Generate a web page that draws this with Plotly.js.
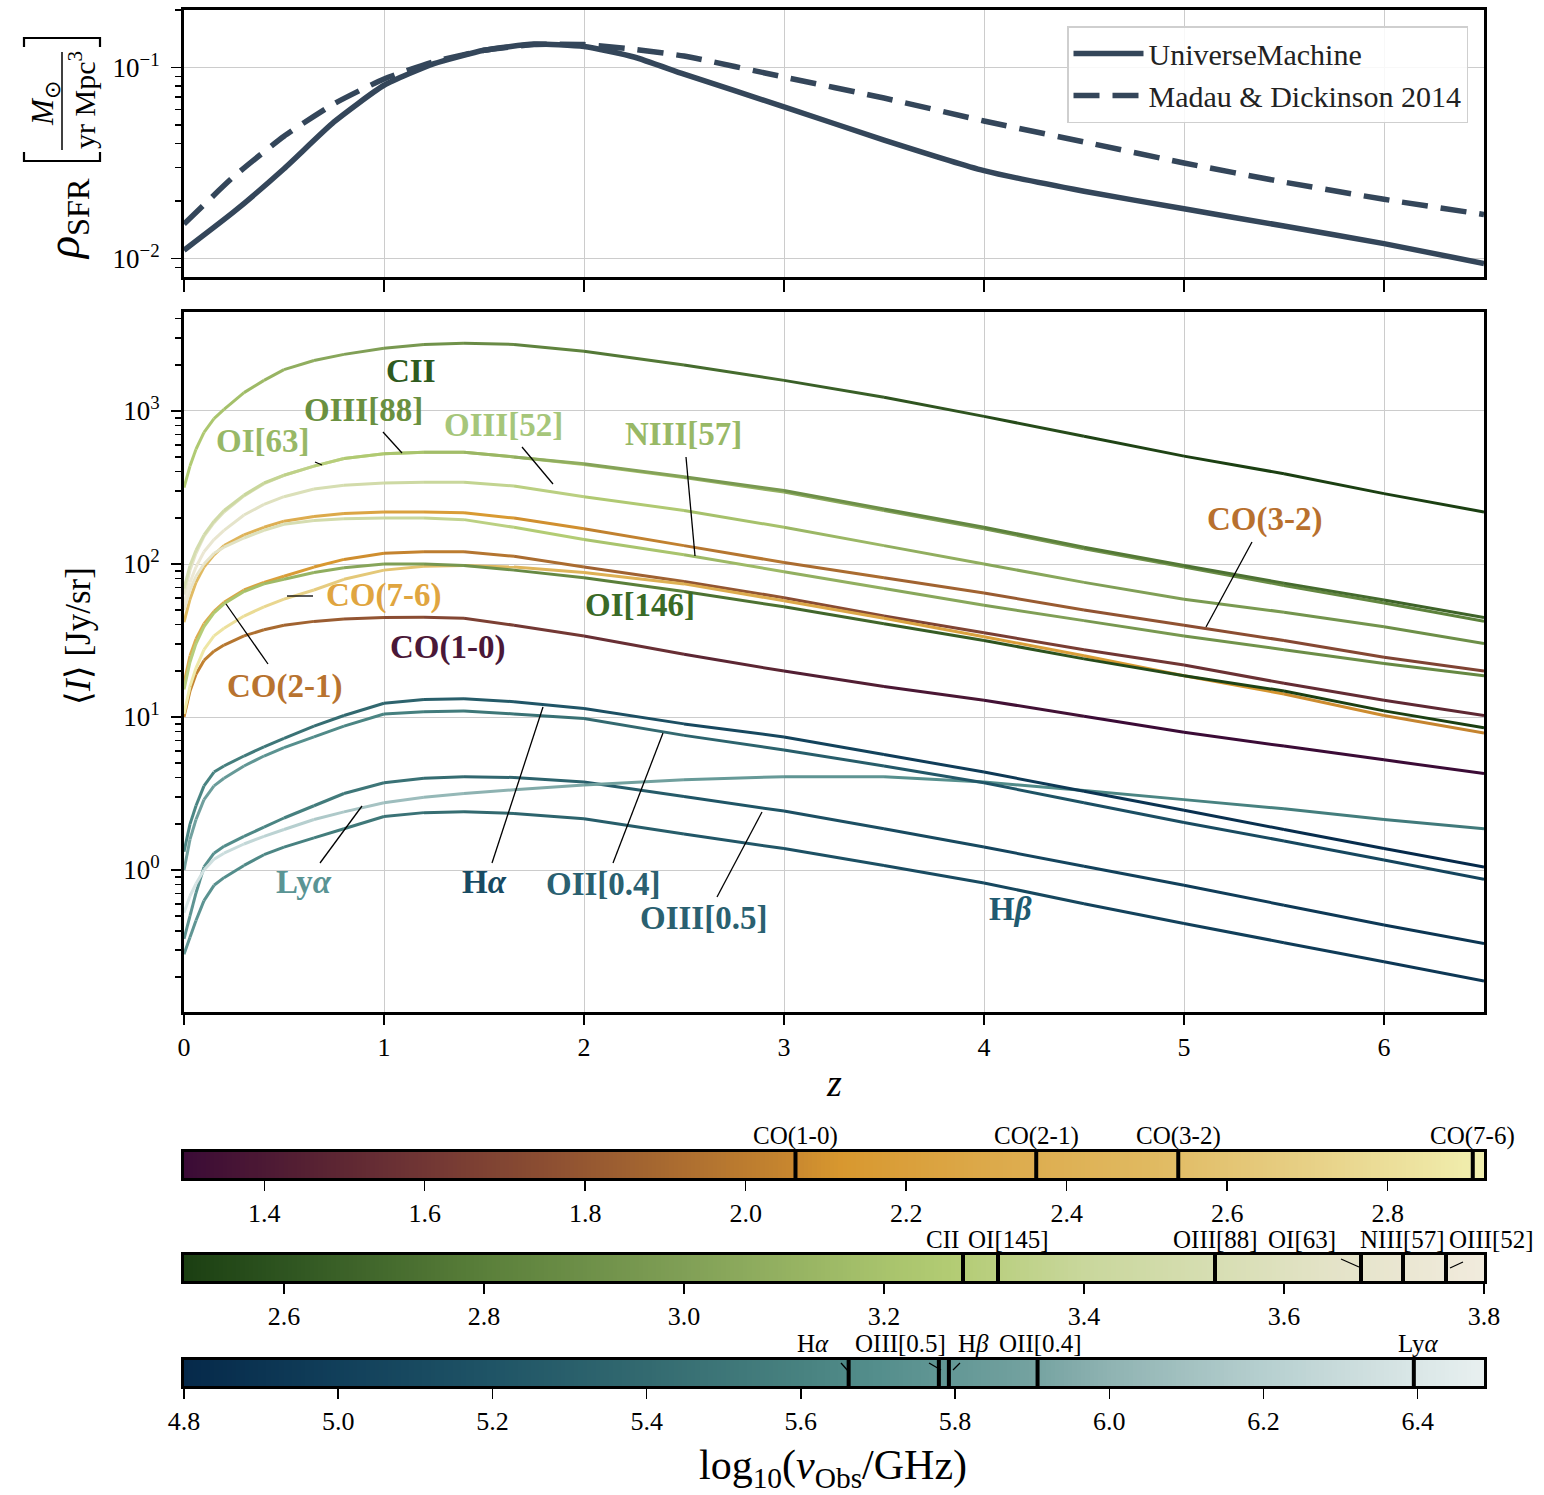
<!DOCTYPE html>
<html><head><meta charset="utf-8">
<script src="https://cdn.plot.ly/plotly-3.0.1.min.js"></script>
<style>body{margin:0;background:#fff}#chart{width:1544px;height:1495px}</style>
</head><body><div id="chart"></div>
<script>
// ---------- DATA ----------
// top panel: star formation rate density, log10(rho_SFR)
const zSfr = [0,0.25,0.5,0.75,1.0,1.25,1.5,1.75,2.0,2.25,2.5,3.0,3.5,4.0,4.5,5.0,5.5,6.0,6.5];
const logSfrUM = [-1.957,-1.755,-1.53,-1.285,-1.093,-0.98,-0.91,-0.877,-0.89,-0.945,-1.035,-1.206,-1.38,-1.54,-1.648,-1.74,-1.83,-1.922,-2.026];
const logSfrMD14 = [-1.82,-1.57,-1.36,-1.19,-1.06,-0.97,-0.91,-0.88,-0.88,-0.905,-0.94,-1.05,-1.16,-1.28,-1.39,-1.50,-1.60,-1.69,-1.77];

// main panel: log10 <I> [Jy/sr] versus redshift
const zGrid = [0,0.03,0.06,0.1,0.15,0.2,0.3,0.4,0.5,0.65,0.8,1.0,1.2,1.4,1.65,2.0,2.5,3.0,3.5,4.0,4.5,5.0,5.5,6.0,6.5];
const logI_CII   = [2.50,2.64,2.75,2.86,2.95,3.01,3.12,3.20,3.27,3.33,3.37,3.41,3.435,3.443,3.435,3.39,3.30,3.20,3.09,2.965,2.835,2.705,2.59,2.46,2.34];
const logI_OIII88= [1.84,1.99,2.09,2.19,2.28,2.35,2.45,2.53,2.58,2.64,2.69,2.72,2.73,2.73,2.70,2.655,2.57,2.48,2.36,2.24,2.11,1.99,1.875,1.765,1.65];
const logI_OI63  = [1.80,1.96,2.07,2.18,2.27,2.34,2.445,2.525,2.58,2.64,2.69,2.72,2.73,2.73,2.70,2.65,2.565,2.47,2.35,2.23,2.10,1.98,1.86,1.745,1.625];
const logI_OIII52= [1.74,1.88,1.98,2.08,2.16,2.22,2.32,2.39,2.44,2.49,2.515,2.53,2.535,2.535,2.51,2.44,2.35,2.24,2.12,2.00,1.88,1.77,1.685,1.59,1.48];
const logI_CO32  = [1.62,1.77,1.88,1.98,2.06,2.12,2.19,2.24,2.28,2.31,2.33,2.34,2.34,2.335,2.30,2.23,2.12,2.01,1.91,1.81,1.70,1.60,1.50,1.39,1.30];
const logI_NIII57= [1.70,1.83,1.92,2.00,2.07,2.11,2.17,2.22,2.26,2.285,2.295,2.30,2.30,2.29,2.24,2.16,2.06,1.95,1.84,1.73,1.63,1.53,1.44,1.35,1.27];
const logI_CO21  = [1.22,1.40,1.51,1.61,1.69,1.75,1.83,1.88,1.92,1.98,2.03,2.07,2.08,2.08,2.05,1.98,1.885,1.78,1.66,1.55,1.44,1.34,1.22,1.11,1.01];
const logI_OI145 = [1.18,1.36,1.48,1.59,1.68,1.74,1.82,1.87,1.90,1.945,1.975,2.00,2.00,1.99,1.96,1.91,1.82,1.72,1.61,1.50,1.38,1.27,1.17,1.04,0.93];
const logI_CO76  = [1.02,1.20,1.32,1.44,1.53,1.58,1.66,1.72,1.77,1.83,1.90,1.96,1.985,1.99,1.98,1.945,1.87,1.76,1.645,1.525,1.40,1.27,1.15,1.01,0.895];
const logI_CO10  = [1.00,1.17,1.28,1.37,1.43,1.47,1.53,1.57,1.60,1.625,1.64,1.65,1.652,1.645,1.60,1.53,1.41,1.30,1.20,1.11,1.005,0.90,0.81,0.72,0.63];
const logI_Ha    = [0.12,0.30,0.42,0.55,0.64,0.68,0.745,0.805,0.86,0.94,1.01,1.09,1.115,1.12,1.10,1.055,0.955,0.87,0.755,0.64,0.515,0.39,0.265,0.14,0.02];
const logI_OII4  = [0.0,0.20,0.33,0.46,0.55,0.60,0.68,0.745,0.80,0.87,0.94,1.02,1.035,1.04,1.02,0.99,0.88,0.785,0.68,0.57,0.44,0.31,0.19,0.065,-0.06];
const logI_OIII5 = [-0.45,-0.30,-0.15,0.02,0.11,0.155,0.22,0.28,0.34,0.42,0.50,0.57,0.60,0.61,0.605,0.575,0.48,0.385,0.27,0.15,0.025,-0.10,-0.23,-0.36,-0.48];
const logI_Hb    = [-0.55,-0.44,-0.33,-0.20,-0.10,-0.05,0.03,0.10,0.15,0.21,0.27,0.35,0.375,0.38,0.37,0.335,0.235,0.14,0.03,-0.085,-0.22,-0.35,-0.475,-0.60,-0.725];
const logI_Lya   = [-0.28,-0.17,-0.09,0.0,0.07,0.11,0.17,0.22,0.265,0.33,0.38,0.44,0.475,0.50,0.525,0.555,0.59,0.61,0.61,0.575,0.52,0.46,0.40,0.33,0.27];

// rest-frame log10(nu / GHz) of each line (marks on the colour bars)
const coNames  = ["CO(1-0)","CO(2-1)","CO(3-2)","CO(7-6)"];
const coLogNu  = [2.062,2.362,2.539,2.906];
const firNames = ["CII","OI[145]","OIII[88]","OI[63]","NIII[57]","OIII[52]"];
const firLogNu = [3.279,3.314,3.531,3.677,3.719,3.762];
const optNames = ["Hα","OIII[0.5]","Hβ","OII[0.4]","Lyα"];
const optLogNu = [5.662,5.779,5.792,5.907,6.395];

// colour-bar ranges and ticks
const cbRangeCO  = [1.30, 2.92];
const cbRangeFIR = [2.50, 3.80];
const cbRangeOpt = [4.80, 6.486];
const cbTicksCO  = [1.4,1.6,1.8,2.0,2.2,2.4,2.6,2.8];
const cbTicksFIR = [2.6,2.8,3.0,3.2,3.4,3.6,3.8];
const cbTicksOpt = [4.8,5.0,5.2,5.4,5.6,5.8,6.0,6.2,6.4];
const zTicks = [0,1,2,3,4,5,6];
const sfrTickVals = [0.01,0.1];
const sfrTickText = ["10<sup>−2</sup>","10<sup>−1</sup>"];
const iTickVals = [1,10,100,1000];
const iTickText = ["10<sup>0</sup>","10<sup>1</sup>","10<sup>2</sup>","10<sup>3</sup>"];
const sfrMinor = [0.009,0.02,0.03,0.04,0.05,0.06,0.07,0.08,0.09,0.2];
const iMinor = [0.2,0.3,0.4,0.5,0.6,0.7,0.8,0.9,2,3,4,5,6,7,8,9,20,30,40,50,60,70,80,90,200,300,400,500,600,700,800,900,2000,3000,4000];

// colour maps (value in log10 nu, colour)
const cmapCO = [[1.30,'#3b0b36'],[1.45,'#552033'],[1.60,'#713634'],[1.75,'#8c4e32'],[1.90,'#a86a30'],[2.05,'#c6852f'],[2.12,'#d8982f'],[2.30,'#dca94a'],[2.50,'#e0b960'],[2.70,'#e7d086'],[2.92,'#f1efb0']];
const cmapFIR = [[2.50,'#1b3f12'],[2.60,'#2e5420'],[2.80,'#5a7f3a'],[3.00,'#809f56'],[3.20,'#a8c36c'],[3.27,'#b3cc74'],[3.40,'#c9d79c'],[3.55,'#d9dfb6'],[3.65,'#e4e3c8'],[3.80,'#f1ebdd']];
const cmapOpt = [[4.80,'#05294a'],[5.00,'#113f5a'],[5.20,'#1f5466'],[5.40,'#336a70'],[5.60,'#488280'],[5.70,'#548e8c'],[5.90,'#74a2a0'],[6.00,'#8fb3b2'],[6.20,'#b6cfcf'],[6.40,'#dae7e7'],[6.486,'#e8f0f0']];

// ---------- HELPERS ----------
const FONT = 'Liberation Serif, Times New Roman, serif';
const L=184, R=1484, T=10, B=1386;
const px = x => (x-L)/(R-L);
const py = y => (B-y)/(B-T);
function hex2rgb(h){return [parseInt(h.slice(1,3),16),parseInt(h.slice(3,5),16),parseInt(h.slice(5,7),16)];}
function cmapAt(cm, v){
  if(v<=cm[0][0]) return cm[0][1];
  if(v>=cm[cm.length-1][0]) return cm[cm.length-1][1];
  for(let i=0;i<cm.length-1;i++){
    if(v>=cm[i][0] && v<=cm[i+1][0]){
      const t=(v-cm[i][0])/(cm[i+1][0]-cm[i][0]);
      const a=hex2rgb(cm[i][1]), b=hex2rgb(cm[i+1][1]);
      return 'rgb('+a.map((c,k)=>Math.round(c+(b[k]-c)*t)).join(',')+')';
    }
  }
}
function toScale(cm){const lo=cm[0][0],hi=cm[cm.length-1][0];return cm.map(s=>[(s[0]-lo)/(hi-lo),s[1]]);}

const traces = [];
// top panel
const UMC = '#34465a';
traces.push({x:zSfr, y:logSfrUM.map(v=>Math.pow(10,v)), type:'scatter', mode:'lines', name:'UniverseMachine',
  line:{color:UMC,width:5.5,shape:'spline',smoothing:0.5}, xaxis:'x', yaxis:'y', hoverinfo:'skip'});
traces.push({x:zSfr, y:logSfrMD14.map(v=>Math.pow(10,v)), type:'scatter', mode:'lines', name:'Madau &amp; Dickinson 2014',
  line:{color:UMC,width:5.5,dash:'26px,13px',shape:'spline',smoothing:0.5}, xaxis:'x', yaxis:'y', hoverinfo:'skip'});

// main panel: each line drawn piecewise, coloured by observed frequency
const lineSets = [
  [logI_CO10, coLogNu[0], cmapCO],[logI_CO21, coLogNu[1], cmapCO],[logI_CO32, coLogNu[2], cmapCO],[logI_CO76, coLogNu[3], cmapCO],
  [logI_OI145, firLogNu[1], cmapFIR],[logI_NIII57, firLogNu[4], cmapFIR],[logI_OIII52, firLogNu[5], cmapFIR],
  [logI_OI63, firLogNu[3], cmapFIR],[logI_OIII88, firLogNu[2], cmapFIR],[logI_CII, firLogNu[0], cmapFIR],
  [logI_Hb, optLogNu[2], cmapOpt],[logI_OIII5, optLogNu[1], cmapOpt],[logI_Lya, optLogNu[4], cmapOpt],
  [logI_OII4, optLogNu[3], cmapOpt],[logI_Ha, optLogNu[0], cmapOpt]
];
lineSets.forEach(([vals, lnu, cm])=>{
  for(let i=0;i<zGrid.length-1;i++){
    const zm=(zGrid[i]+zGrid[i+1])/2;
    traces.push({x:[zGrid[i],zGrid[i+1]], y:[Math.pow(10,vals[i]),Math.pow(10,vals[i+1])], type:'scatter', mode:'lines',
      line:{color:cmapAt(cm, lnu-Math.log10(1+zm)), width:3}, xaxis:'x2', yaxis:'y2', showlegend:false, hoverinfo:'skip'});
  }
});

// colour bars
function addBar(range, cm, xa, ya, lognu){
  const n=300, edges=[], zrow=[];
  for(let i=0;i<=n;i++) edges.push(range[0]+(range[1]-range[0])*i/n);
  for(let i=0;i<n;i++) zrow.push((edges[i]+edges[i+1])/2);
  traces.push({type:'heatmap', x:edges, y:[0,1], z:[zrow], colorscale:toScale(cm), zmin:cm[0][0], zmax:cm[cm.length-1][0],
    showscale:false, xaxis:xa, yaxis:ya, hoverinfo:'skip'});
  lognu.forEach(v=>traces.push({x:[v,v], y:[0,1], type:'scatter', mode:'lines', line:{color:'black',width:4},
    xaxis:xa, yaxis:ya, showlegend:false, hoverinfo:'skip'}));
}
addBar(cbRangeCO, cmapCO, 'x3','y3', coLogNu);
addBar(cbRangeFIR, cmapFIR, 'x4','y4', firLogNu);
addBar(cbRangeOpt, cmapOpt, 'x5','y5', optLogNu);

// ---------- LAYOUT ----------
const frame = {showline:true, linecolor:'black', linewidth:3, mirror:true, zeroline:false};
const grid = {showgrid:true, gridcolor:'#cccccc', gridwidth:1};
const tickFont = {family:FONT, size:26, color:'black'};

function cbX(range, ticks, ya){
  return Object.assign({}, frame, {anchor:ya, domain:[0,1], range:range, tickmode:'array', tickvals:ticks,
    ticktext:ticks.map(t=>t.toFixed(1)), ticks:'outside', ticklen:10, tickwidth:1.5, tickcolor:'black',
    showgrid:false, tickfont:tickFont, ticklabelstandoff:0});
}
function cbY(dom, xa){
  return Object.assign({}, frame, {anchor:xa, domain:dom, range:[0,1], showticklabels:false, ticks:'', showgrid:false, fixedrange:true});
}

const annotations = [];
const shapes = [];
function ann(text, x, y, size, color, extra){
  annotations.push(Object.assign({text:text, xref:'paper', yref:'paper', x:px(x), y:py(y), xanchor:'center', yanchor:'middle',
    showarrow:false, font:{family:FONT, size:size, color:color||'black'}}, extra||{}));
}
function seg(x0,y0,x1,y1,w){
  shapes.push({type:'line', xref:'paper', yref:'paper', x0:px(x0), y0:py(y0), x1:px(x1), y1:py(y1), line:{color:'black', width:w||1.3}});
}

// main panel line labels
const lab = [
  ['<b>CII</b>',411,371,'#2e5a1e'],['<b>OIII[88]</b>',363,410,'#6a9040'],['<b>OI[63]</b>',263,441,'#98b866'],
  ['<b>OIII[52]</b>',503,425,'#a6c67a'],['<b>NIII[57]</b>',683,434,'#98b866'],['<b>CO(3-2)</b>',1264,519,'#b8702e'],
  ['<b>CO(7-6)</b>',383,595,'#e0a540'],['<b>OI[146]</b>',640,605,'#3a6a26'],['<b>CO(1-0)</b>',447,647,'#4a1838'],
  ['<b>CO(2-1)</b>',284,686,'#b8732f'],['<b>Ly<i>α</i></b>',304,882,'#5a9494'],['<b>H<i>α</i></b>',484,882,'#174a62'],
  ['<b>OII[0.4]</b>',603,884,'#2a6070'],['<b>OIII[0.5]</b>',703,918,'#2a6070'],['<b>H<i>β</i></b>',1010,909,'#205a70']
];
lab.forEach(a=>ann(a[0],a[1],a[2],33,a[3]));
[[383,432,402,453],[315,462,322,465],[522,447,553,484],[686,457,695,556],[1252,542,1206,627],[287,596,313,596],
 [226,604,268,664],[362,806,320,863],[543,707,492,863],[663,733,613,863],[762,812,717,897]].forEach(s=>seg(...s));

// colour bar labels
[['CO(1-0)',795,1136],['CO(2-1)',1036,1136],['CO(3-2)',1178,1136],['CO(7-6)',1472,1136],
 ['CII',942,1239],['OI[145]',1008,1239],['OIII[88]',1215,1239],['OI[63]',1302,1239],['NIII[57]',1402,1239],['OIII[52]',1491,1239],
 ['H<i>α</i>',813,1343],['OIII[0.5]',900,1343],['H<i>β</i>',974,1343],['OII[0.4]',1040,1343],['Ly<i>α</i>',1418,1343]
].forEach(a=>ann(a[0],a[1],a[2],25,'black'));
[[1341,1259,1359,1267],[1463,1262,1450,1268],[841,1363,849,1372],[929,1363,941,1370],[960,1363,953,1370]].forEach(s=>seg(...s,1.3));

// axis titles
ann('⟨<i>I</i>⟩ [Jy/sr]', 78, 636, 35, 'black', {textangle:-90});
ann('<i>z</i>', 834, 1083, 38, 'black');
ann('log<sub>10</sub>(<i>ν</i><sub>Obs</sub>/GHz)', 833, 1468, 42, 'black');
ann('<i>ρ</i><sub>SFR</sub>', 67, 219, 46, 'black', {textangle:-90});
ann('<i>M</i><sub>⊙</sub>', 45, 104, 31, 'black', {textangle:-90});
ann('yr Mpc<sup>3</sup>', 82, 100, 30, 'black', {textangle:-90});
seg(62,52,62,150,1.5);
shapes.push({type:'path', xref:'paper', yref:'paper', line:{color:'black',width:2.2},
  path:`M${px(24)},${py(152)} L${px(24)},${py(161)} L${px(100)},${py(161)} L${px(100)},${py(152)}`});
shapes.push({type:'path', xref:'paper', yref:'paper', line:{color:'black',width:2.2},
  path:`M${px(24)},${py(47)} L${px(24)},${py(38)} L${px(100)},${py(38)} L${px(100)},${py(47)}`});

const layout = {
  width:1544, height:1495, margin:{l:L, r:1544-R, t:T, b:1495-B},
  paper_bgcolor:'white', plot_bgcolor:'white', font:{family:FONT, color:'black'},
  showlegend:true,
  legend:{x:px(1468), y:py(26), xanchor:'right', yanchor:'top', bgcolor:'rgba(255,255,255,0.85)',
    bordercolor:'#cfcfcf', borderwidth:1.5, font:{family:FONT, size:30, color:'#222'}, itemwidth:70, tracegroupgap:0},
  xaxis: Object.assign({}, frame, grid, {anchor:'y', domain:[0,1], range:[0,6.5], tickmode:'array', tickvals:zTicks,
    showticklabels:false, ticks:'outside', ticklen:12, tickwidth:1.5, tickcolor:'black'}),
  yaxis: Object.assign({}, frame, grid, {anchor:'x', domain:[py(277), 1], type:'log', range:[Math.log10(0.008), Math.log10(0.2)],
    tickmode:'array', tickvals:sfrTickVals, ticktext:sfrTickText, ticks:'outside', ticklen:10, tickwidth:1.5, tickcolor:'black',
    tickfont:{family:FONT,size:27,color:'black'}, ticklabelstandoff:6,
    minor:{tickmode:'array', tickvals:sfrMinor, ticks:'outside', ticklen:6, tickwidth:1.2, tickcolor:'black', showgrid:false}}),
  xaxis2: Object.assign({}, frame, grid, {anchor:'y2', domain:[0,1], range:[0,6.5], tickmode:'array', tickvals:zTicks,
    ticks:'outside', ticklen:10, tickwidth:1.5, tickcolor:'black', tickfont:{family:FONT,size:26,color:'black'}, ticklabelstandoff:0}),
  yaxis2: Object.assign({}, frame, grid, {anchor:'x2', domain:[py(1012), py(312)], type:'log', range:[-0.928, 3.647],
    tickmode:'array', tickvals:iTickVals, ticktext:iTickText, ticks:'outside', ticklen:10, tickwidth:1.5, tickcolor:'black',
    tickfont:{family:FONT,size:27,color:'black'}, ticklabelstandoff:6,
    minor:{tickmode:'array', tickvals:iMinor, ticks:'outside', ticklen:6, tickwidth:1.2, tickcolor:'black', showgrid:false}}),
  xaxis3: cbX(cbRangeCO, cbTicksCO, 'y3'),
  yaxis3: cbY([py(1178), py(1152)], 'x3'),
  xaxis4: cbX(cbRangeFIR, cbTicksFIR, 'y4'),
  yaxis4: cbY([py(1281), py(1255)], 'x4'),
  xaxis5: cbX(cbRangeOpt, cbTicksOpt, 'y5'),
  yaxis5: cbY([py(1386), py(1360)], 'x5'),
  annotations: annotations,
  shapes: shapes
};

Plotly.newPlot('chart', traces, layout, {displayModeBar:false, staticPlot:true});
</script></body></html>
